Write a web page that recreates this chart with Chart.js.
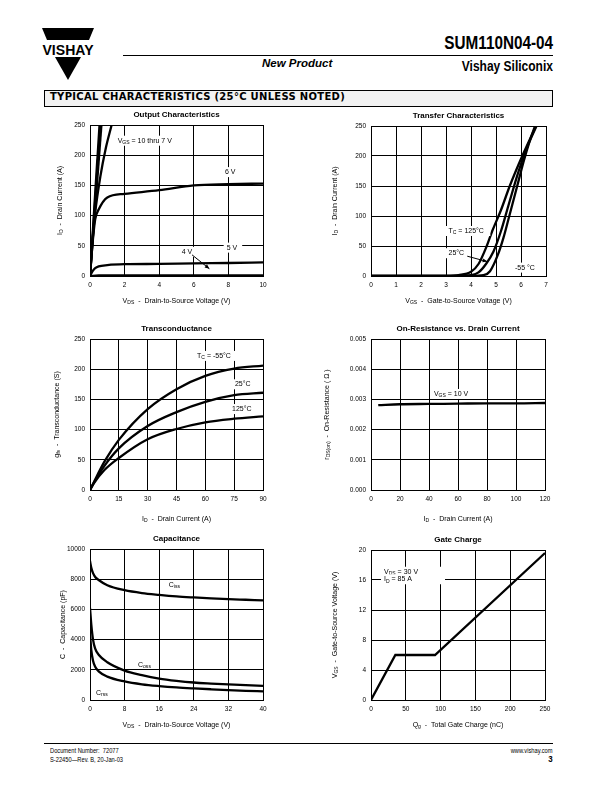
<!DOCTYPE html>
<html>
<head>
<meta charset="utf-8">
<script src="https://cdn.jsdelivr.net/npm/chart.js@4.4.0/dist/chart.umd.min.js"></script>
<style>
body { margin: 0; width: 612px; height: 792px; position: relative; background: #fff; font-family: "Liberation Sans", Arial, sans-serif; color: #000; }
.abs { position: absolute; white-space: nowrap; }
canvas { position: absolute; }
.narrow { font-weight: bold; transform-origin: right top; }
</style>
</head>
<body>

<!-- header -->
<svg class="abs" style="left:42px;top:28px" width="52" height="53">
  <polygon points="0,0 52,0 47,12 5,12" fill="#000"/>
  <text x="26" y="27" font-family="Liberation Sans, Arial" font-weight="bold" font-size="14" text-anchor="middle" textLength="51" lengthAdjust="spacingAndGlyphs">VISHAY</text>
  <polygon points="13,29 39,29 26,52" fill="#000"/>
</svg>
<div class="abs narrow" style="right:59px;top:33px;font-size:18px;transform:scaleX(0.85);">SUM110N04-04</div>
<div class="abs" style="left:123px;top:55px;width:430px;border-top:1px solid #000;"></div>
<div class="abs" style="left:262px;top:57px;font-size:11.5px;font-weight:bold;font-style:italic;">New Product</div>
<div class="abs narrow" style="right:59px;top:57px;font-size:15px;transform:scaleX(0.8);">Vishay Siliconix</div>
<div class="abs" style="left:44px;top:90px;width:507px;height:15px;border:1px solid #000;background:#f2f2f2;"></div>
<div class="abs" style="left:50px;top:91px;font-family:'DejaVu Sans',sans-serif;font-weight:bold;font-size:10px;letter-spacing:0.3px;">TYPICAL CHARACTERISTICS (25°C UNLESS NOTED)</div>

<!-- charts -->
<canvas id="outChart" width="273" height="201" style="left:40px;top:110px"></canvas>
<canvas id="transferChart" width="275" height="200" style="left:321px;top:111px"></canvas>
<canvas id="gfsChart" width="273" height="201" style="left:40px;top:324px"></canvas>
<canvas id="rdsChart" width="274" height="201" style="left:321px;top:324px"></canvas>
<canvas id="capChart" width="273" height="201" style="left:40px;top:534px"></canvas>
<canvas id="gateChart" width="274" height="200" style="left:321px;top:535px"></canvas>

<!-- footer -->
<div class="abs" style="left:44px;top:743px;width:509px;border-top:1px solid #000;"></div>
<div class="abs" style="left:50px;top:746px;font-size:6.5px;line-height:9px;transform:scaleX(0.88);transform-origin:left top;">Document Number:&nbsp; 72077<br>S-22450—Rev. B, 20-Jan-03</div>
<div class="abs" style="right:59px;top:746px;font-size:6.5px;line-height:9px;text-align:right;transform:scaleX(0.88);transform-origin:right top;">www.vishay.com<br><b style="font-size:9px">3</b></div>

<script>
// output characteristics (VDS vs ID)
const out10V_x = [0, 0.55];
const out10V_y = [0, 250];
const out9V_x = [0, 0.6];
const out9V_y = [0, 250];
const out8V_x = [0, 0.66];
const out8V_y = [0, 250];
const out7V_x = [0, 0.15, 0.3, 0.6, 0.9, 1.25];
const out7V_y = [0, 60, 105, 165, 210, 250];
const out6V_x = [0, 0.15, 0.3, 0.5, 1, 2, 4, 6, 8, 10];
const out6V_y = [0, 55, 94, 110, 130, 136, 142, 150, 152, 153];
const out5V_x = [0, 0.15, 0.3, 0.5, 1, 2, 4, 6, 8, 10];
const out5V_y = [0, 8, 13, 16, 18, 19.5, 20, 21, 21.5, 22.5];
const out4V_x = [0, 0.5, 10];
const out4V_y = [0, 0.8, 1.2];

// transfer characteristics (VGS vs ID)
const tr125_x = [0, 3, 3.5, 4, 4.3, 4.63, 4.85, 5.2, 5.55, 6.05, 6.6];
const tr125_y = [0, 0.3, 1.5, 7, 20, 50, 75, 110, 150, 200, 250];
const tr25_x = [0, 3.5, 4, 4.3, 4.6, 4.9, 5.2, 5.5, 5.9, 6.25, 6.62];
const tr25_y = [0, 0.2, 1.5, 6, 20, 41, 75, 118, 174, 215, 250];
const trM55_x = [0, 4, 4.5, 4.76, 5.08, 5.3, 5.5, 5.83, 6.1, 6.35, 6.56];
const trM55_y = [0, 0.2, 1.5, 8, 36, 64, 95, 147, 190, 225, 250];

// transconductance (ID vs gfs)
const gfsId = [0, 2, 7.5, 15, 30, 45, 60, 75, 90];
const gfsM55 = [0, 13, 47, 83, 134, 167, 189, 201, 206];
const gfs25 = [0, 12, 40, 69, 106, 129, 146, 157, 161];
const gfs125 = [0, 11, 33, 53, 84, 101, 112, 118, 122];

// on-resistance vs drain current
const rdsId = [5, 20, 40, 60, 80, 100, 120];
const rdsOhm = [0.00281, 0.00284, 0.00285, 0.00286, 0.00287, 0.00287, 0.00288];

// capacitance vs VDS
const capV = [0, 0.3, 0.7, 1.2, 2, 4, 8, 12, 16, 20, 24, 28, 32, 36, 40];
const cissPf = [9200, 8750, 8400, 8150, 7950, 7600, 7270, 7080, 6960, 6860, 6790, 6730, 6680, 6640, 6600];
const cossPf = [6100, 5000, 4000, 3400, 3000, 2500, 1950, 1650, 1420, 1270, 1160, 1090, 1030, 980, 940];
const crssPf = [4400, 3300, 2600, 2200, 1900, 1550, 1230, 1040, 920, 830, 765, 710, 660, 610, 570];

// gate charge
const gateQ = [0, 35, 92, 250];
const gateV = [0, 6, 6, 19.6];

const FONT = "'Liberation Sans', Arial, sans-serif";

function pts(xs, ys) {
    return xs.map((x, i) => ({ x: x, y: ys[i] }));
}

function line(xs, ys, straight) {
    const ds = {
        data: pts(xs, ys),
        borderColor: "#000",
        borderWidth: 2.3,
        pointRadius: 0,
        fill: false,
        tension: 0,
    };
    if (!straight) ds.cubicInterpolationMode = "monotone";
    return ds;
}

// text with _{subscript} parts
function drawRich(ctx, text, x, y, size, align, bold) {
    const parts = [];
    const re = /_\{([^}]*)\}/g;
    let last = 0, m;
    while ((m = re.exec(text)) !== null) {
        if (m.index > last) parts.push({ t: text.slice(last, m.index), sub: false });
        parts.push({ t: m[1], sub: true });
        last = re.lastIndex;
    }
    if (last < text.length) parts.push({ t: text.slice(last), sub: false });
    const weight = bold ? "bold " : "";
    let w = 0;
    parts.forEach(p => {
        ctx.font = weight + (p.sub ? size * 0.72 : size) + "px " + FONT;
        p.w = ctx.measureText(p.t).width;
        w += p.w;
    });
    let cx = align === "center" ? x - w / 2 : x;
    ctx.textBaseline = "middle";
    ctx.textAlign = "left";
    parts.forEach(p => {
        ctx.font = weight + (p.sub ? size * 0.72 : size) + "px " + FONT;
        ctx.fillText(p.t, cx, p.sub ? y + size * 0.3 : y);
        cx += p.w;
    });
    return w;
}

// chart title, axis titles (with subscripts) and in-plot notes
const richText = {
    id: "richText",
    afterDraw(chart, args, o) {
        const ctx = chart.ctx, a = chart.chartArea;
        const sx = chart.scales.x, sy = chart.scales.y;
        ctx.save();
        ctx.fillStyle = "#000";
        drawRich(ctx, o.title, (a.left + a.right) / 2, a.top - 10, 8, "center", true);
        drawRich(ctx, o.xTitle, (a.left + a.right) / 2, a.bottom + o.xOff, 7, "center");
        ctx.save();
        ctx.translate(a.left - o.yOff, (a.top + a.bottom) / 2);
        ctx.rotate(-Math.PI / 2);
        drawRich(ctx, o.yTitle, 0, 0, 7, "center");
        ctx.restore();
        (o.labels || []).forEach(l => {
            const px = sx.getPixelForValue(l.x), py = sy.getPixelForValue(l.y);
            if (l.bg) {
                ctx.font = "7px " + FONT;
                const w = l.bgw || (ctx.measureText(l.text.replace(/_\{|\}/g, "")).width + 4);
                ctx.fillStyle = "#fff";
                ctx.fillRect(px - 3, py - 5, w + 4, 10);
                ctx.fillStyle = "#000";
            }
            drawRich(ctx, l.text, px, py, 7, "left");
        });
        (o.arrows || []).forEach(r => {
            const x1 = sx.getPixelForValue(r[0]), y1 = sy.getPixelForValue(r[1]);
            const x2 = sx.getPixelForValue(r[2]), y2 = sy.getPixelForValue(r[3]);
            const ang = Math.atan2(y2 - y1, x2 - x1);
            ctx.strokeStyle = "#000";
            ctx.lineWidth = 1;
            ctx.beginPath();
            ctx.moveTo(x1, y1);
            ctx.lineTo(x2, y2);
            ctx.stroke();
            ctx.beginPath();
            ctx.moveTo(x2, y2);
            ctx.lineTo(x2 - 5 * Math.cos(ang - 0.4), y2 - 5 * Math.sin(ang - 0.4));
            ctx.lineTo(x2 - 5 * Math.cos(ang + 0.4), y2 - 5 * Math.sin(ang + 0.4));
            ctx.closePath();
            ctx.fill();
        });
        ctx.restore();
    }
};

function axis(min, max, step, size, fmt) {
    return {
        type: "linear",
        min: min,
        max: max,
        ticks: {
            stepSize: step,
            color: "#000",
            font: { family: FONT, size: 6.5 },
            padding: 5,
            maxRotation: 0,
            autoSkip: false,
            callback: fmt || (v => String(v)),
        },
        grid: { color: "#000", lineWidth: 1, drawTicks: false },
        border: { color: "#000", width: 1 },
        afterFit: size,
    };
}

function makeChart(id, datasets, xs, ys, rich) {
    return new Chart(id, {
        type: "line",
        data: { datasets: datasets },
        options: {
            responsive: false,
            animation: false,
            events: [],
            layout: { padding: { left: 0, right: 50, top: 15, bottom: 0 } },
            plugins: {
                legend: { display: false },
                tooltip: { enabled: false },
                title: { display: false },
                richText: rich,
            },
            scales: { x: xs, y: ys },
        },
        plugins: [richText],
    });
}

// fixed axis sizes so the plot areas line up with the page
const fitX = s => { s.height = 35; };
const fitY = s => { s.width = 50; };

makeChart("outChart",
    [line(out10V_x, out10V_y, true), line(out9V_x, out9V_y, true), line(out8V_x, out8V_y, true), line(out7V_x, out7V_y),
     line(out6V_x, out6V_y), line(out5V_x, out5V_y), line(out4V_x, out4V_y)],
    axis(0, 10, 2, fitX), axis(0, 250, 50, fitY),
    {
        title: "Output Characteristics",
        xTitle: "V_{DS}  -  Drain-to-Source Voltage (V)", xOff: 25,
        yTitle: "I_{D}  -  Drain Current (A)", yOff: 30,
        labels: [
            { x: 1.6, y: 224, text: "V_{GS} = 10 thru 7 V", bg: true },
            { x: 7.8, y: 172, text: "6 V", bg: true },
            { x: 7.9, y: 47, text: "5 V", bg: true },
            { x: 5.3, y: 40, text: "4 V", bg: true },
        ],
        arrows: [[5.9, 35, 6.9, 12]],
    });

makeChart("transferChart",
    [line(tr125_x, tr125_y), line(tr25_x, tr25_y), line(trM55_x, trM55_y)],
    axis(0, 7, 1, fitX), axis(0, 250, 50, fitY),
    {
        title: "Transfer Characteristics",
        xTitle: "V_{GS}  -  Gate-to-Source Voltage (V)", xOff: 25,
        yTitle: "I_{D}  -  Drain Current (A)", yOff: 36,
        labels: [
            { x: 3.1, y: 75, text: "T_{C} = 125°C", bg: true },
            { x: 3.1, y: 38, text: "25°C", bg: true },
            { x: 5.76, y: 14, text: "-55 °C", bg: true },
        ],
        arrows: [[3.85, 33, 4.65, 24]],
    });

makeChart("gfsChart",
    [line(gfsId, gfsM55), line(gfsId, gfs25), line(gfsId, gfs125)],
    axis(0, 90, 15, fitX), axis(0, 250, 50, fitY),
    {
        title: "Transconductance",
        xTitle: "I_{D}  -  Drain Current (A)", xOff: 29,
        yTitle: "g_{fs}  -  Transconductance (S)", yOff: 33,
        labels: [
            { x: 55.7, y: 222, text: "T_{C} = -55°C", bg: true },
            { x: 75.4, y: 175, text: "25°C", bg: true },
            { x: 73.9, y: 134, text: "125°C", bg: true },
        ],
    });

makeChart("rdsChart",
    [line(rdsId, rdsOhm)],
    axis(0, 120, 20, fitX), axis(0, 0.005, 0.001, fitY, v => v.toFixed(3)),
    {
        title: "On-Resistance vs. Drain Current",
        xTitle: "I_{D}  -  Drain Current (A)", xOff: 29,
        yTitle: "r_{DS(on)}  -  On-Resistance ( Ω )", yOff: 44,
        labels: [
            { x: 43.4, y: 0.00318, text: "V_{GS} = 10 V", bg: true },
        ],
    });

makeChart("capChart",
    [line(capV, cissPf), line(capV, cossPf), line(capV, crssPf)],
    axis(0, 40, 8, fitX), axis(0, 10000, 2000, fitY),
    {
        title: "Capacitance",
        xTitle: "V_{DS}  -  Drain-to-Source Voltage (V)", xOff: 25,
        yTitle: "C  -  Capacitance (pF)", yOff: 27,
        labels: [
            { x: 18.2, y: 7616, text: "C_{iss}", bg: true, bgw: 18 },
            { x: 11.1, y: 2318, text: "C_{oss}" },
            { x: 1.4, y: 464, text: "C_{rss}" },
        ],
    });

makeChart("gateChart",
    [line(gateQ, gateV, true)],
    axis(0, 250, 50, fitX), axis(0, 20, 4, fitY),
    {
        title: "Gate Charge",
        xTitle: "Q_{g}  -  Total Gate Charge (nC)", xOff: 25,
        yTitle: "V_{GS}  -  Gate-to-Source Voltage (V)", yOff: 36,
        labels: [
            { x: 18.7, y: 17.1, text: "V_{DS} = 30 V", bg: true, bgw: 60 },
            { x: 18.7, y: 16.1, text: "I_{D} = 85 A", bg: true, bgw: 60 },
        ],
    });
</script>
</body>
</html>
